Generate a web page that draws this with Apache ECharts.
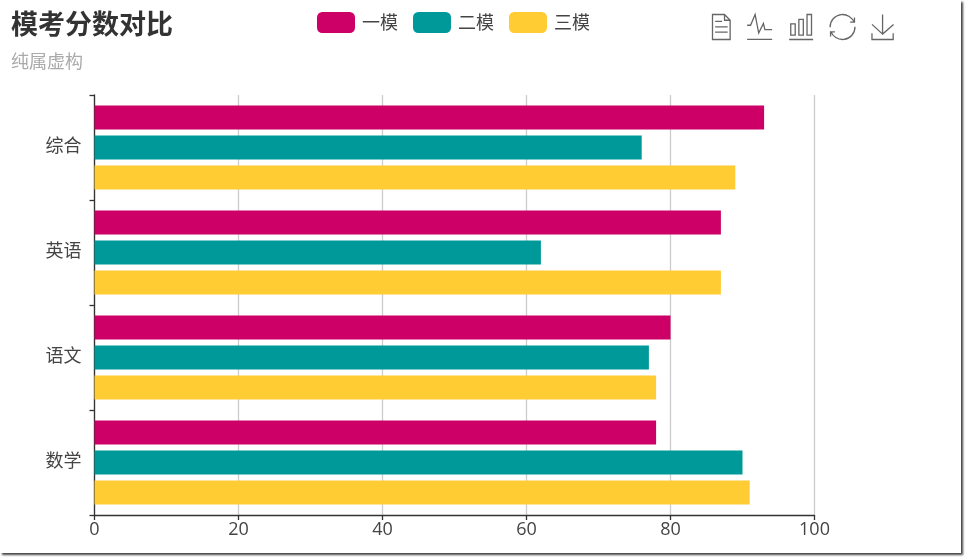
<!DOCTYPE html>
<html><head><meta charset="utf-8">
<script src="https://cdn.jsdelivr.net/npm/echarts@6/dist/echarts.min.js"></script>
<style>
html,body{margin:0;padding:0;background:#fff;overflow:hidden}
#c{width:961px;height:553px;position:absolute;left:0;top:0;background:#fff;box-shadow:2px 2px 2px #444}
</style></head><body><div id="c"></div>
<script>
const categories = ['数学','语文','英语','综合'];
const seriesNames = ['一模','二模','三模'];
const yiMo = [78,80,87,93];
const erMo = [90,77,62,76];
const sanMo = [91,78,87,89];
const colors = ['#CC0066','#009999','#FFCC33'];
const font = '"Noto Sans CJK SC","Noto Sans",sans-serif';
const labelFont = '"Open Sans","Noto Sans CJK SC",sans-serif';
const chart = echarts.init(document.getElementById('c'), null, {renderer:'canvas'});
const values = [yiMo, erMo, sanMo];
chart.setOption({
  animation:false,
  textStyle:{fontFamily:font},
  title:{text:'模考分数对比',subtext:'纯属虚构',left:6,top:5,
    textStyle:{fontSize:27,fontWeight:'bold',color:'#333',fontFamily:font},
    subtextStyle:{fontSize:18,color:'#aaa',fontFamily:font},itemGap:15},
  legend:{data:seriesNames,left:312,top:7,itemWidth:38,itemHeight:21,itemGap:15,
    textStyle:{fontSize:18,color:'#444',fontFamily:font,padding:[0,0,0,2]}},
  toolbox:{show:true,left:710,top:12,itemSize:25,itemGap:12,padding:0,
    iconStyle:{borderColor:'#666',borderWidth:1.3},
    feature:{dataView:{show:true},magicType:{show:true,type:['line','bar']},restore:{show:true},saveAsImage:{show:true}}},
  grid:{left:94.5,right:146.5,top:95,bottom:38,containLabel:false},
  xAxis:{type:'value',min:0,max:100,interval:20,
    axisLine:{show:true,lineStyle:{color:'#333',width:1.3}},axisTick:{show:true,length:5,lineStyle:{color:'#333',width:1.3}},
    axisLabel:{fontSize:18,color:'#444',margin:6,fontFamily:labelFont},
    splitLine:{show:true,lineStyle:{color:'#ccc',width:1.3}}},
  yAxis:{type:'category',data:categories,
    axisLine:{show:true,lineStyle:{color:'#333',width:1.3}},axisTick:{show:true,length:5,lineStyle:{color:'#333',width:1.3}},
    axisLabel:{margin:13,formatter:'{a|{value}}',
      rich:{a:{fontSize:18,color:'#444',fontFamily:font,padding:[0,0,4,0]}}},
    splitLine:{show:false}},
  series:seriesNames.map((n,i)=>({name:n,type:'bar',data:values[i],barWidth:24,barGap:'25%',itemStyle:{color:colors[i]}}))
});
</script></body></html>
